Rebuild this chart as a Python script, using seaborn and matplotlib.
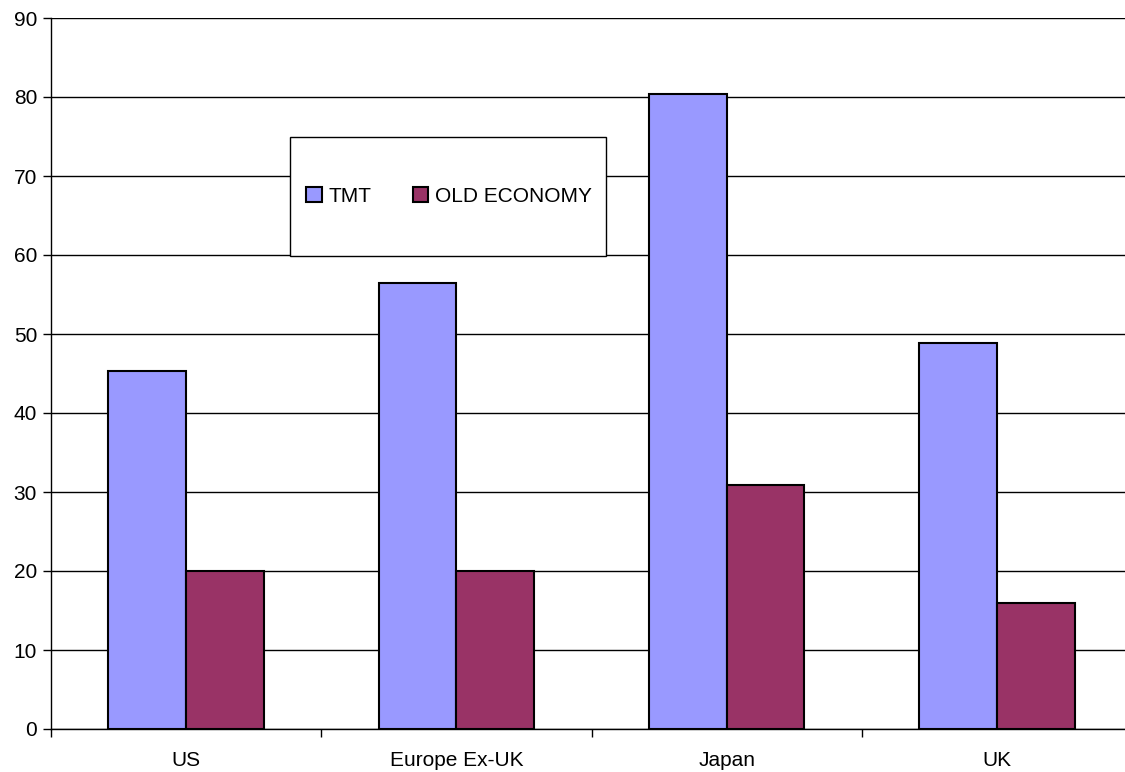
import matplotlib

matplotlib.use("Agg")

import matplotlib.pyplot as plt
import pandas as pd
import seaborn as sns
from matplotlib.patches import Rectangle

regions = ["US", "Europe Ex-UK", "Japan", "UK"]
series = ["TMT", "OLD ECONOMY"]
tmt = [45.3, 56.4, 80.4, 48.9]
old_economy = [20.0, 20.0, 30.9, 16.0]
colors = ["#9999FF", "#993366"]

df = pd.DataFrame({
    "region": regions * 2,
    "series": [series[0]] * 4 + [series[1]] * 4,
    "value": tmt + old_economy,
})

sns.set_theme(style="white")
plt.rcParams["font.family"] = ["Liberation Sans", "DejaVu Sans"]

fig = plt.figure(figsize=(11.25, 7.72), dpi=100)
ax = fig.add_axes([51 / 1125, 43 / 772, 1081 / 1125, 711 / 772])

sns.barplot(
    data=df, x="region", y="value", hue="series", order=regions, hue_order=series,
    palette=colors, width=0.575, edgecolor="black", linewidth=1.5,
    saturation=1, errorbar=None, ax=ax, legend=False,
)

ax.set_xlim(-0.5, 3.5)
ax.set_ylim(0, 90)
ax.set_yticks(range(0, 91, 10))
ax.yaxis.grid(True, color="black", linewidth=1)
ax.set_axisbelow(True)
ax.set_xlabel("")
ax.set_ylabel("")

for side in ["top", "right"]:
    ax.spines[side].set_visible(False)
for side in ["left", "bottom"]:
    ax.spines[side].set_color("black")
    ax.spines[side].set_linewidth(1)

ax.set_xticks([-0.5, 0.5, 1.5, 2.5, 3.5], minor=True)
ax.tick_params(axis="x", which="major", length=0, pad=16, labelsize=15)
ax.tick_params(axis="x", which="minor", length=6, width=1, color="black", direction="out")
ax.tick_params(axis="y", length=6, width=1, color="black", direction="out", labelsize=15, pad=4)
ax.tick_params(bottom=True, left=True, which="both")
for lab in ax.get_xticklabels() + ax.get_yticklabels():
    lab.set_color("black")

# legend box
box = Rectangle((0.221, 0.665), 0.292, 0.168, transform=ax.transAxes,
                facecolor="white", edgecolor="black", linewidth=1, zorder=4)
ax.add_patch(box)
handles = [Rectangle((0, 0), 1, 1, facecolor=c, edgecolor="black", linewidth=1.5) for c in colors]
leg = ax.legend(handles, series, loc="center", bbox_to_anchor=(0.368, 0.749),
                bbox_transform=ax.transAxes, ncol=2, frameon=False, fontsize=15,
                handlelength=0.75, handleheight=0.75, handletextpad=0.3, columnspacing=2.0)
for t in leg.get_texts():
    t.set_color("black")

fig.savefig("out.png", dpi=100)
